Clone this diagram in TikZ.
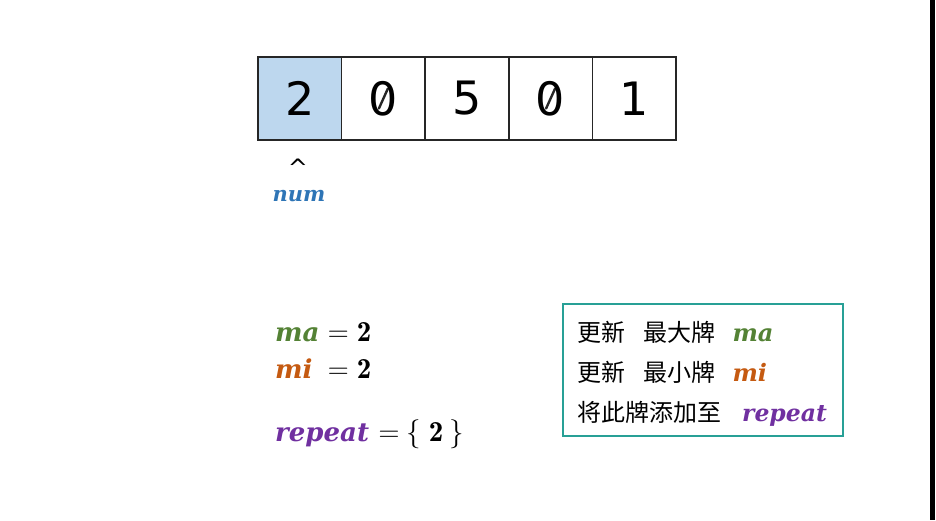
\RequirePackage{fix-cm}
\documentclass[tikz,border=0pt]{standalone}
\usepackage{fontspec}
\newfontfamily\digits{DejaVu Sans}
\newfontfamily\cjk{Noto Sans CJK SC}
\newfontfamily\dejavu{DejaVu Sans}
\newfontfamily\varfont{DejaVu Serif}
\usetikzlibrary{positioning}
\definecolor{cellblue}{RGB}{189,215,238}
\definecolor{numblue}{RGB}{46,117,182}
\definecolor{magreen}{RGB}{84,130,53}
\definecolor{miorange}{RGB}{197,90,17}
\definecolor{reppurple}{RGB}{112,48,160}
\definecolor{boxteal}{RGB}{40,160,150}
\newcommand\bvar[2][26]{{\fontsize{#1}{#1}\selectfont\varfont\bfseries\itshape #2}}

\begin{document}
\begin{tikzpicture}[
    x=1pt, y=-1pt,
    cell/.style={draw=black!85, line width=1.7pt, minimum width=83.6pt,
                 minimum height=83pt, outer sep=0pt, inner sep=0pt,
                 font=\fontsize{46}{46}\selectfont\digits},
    % slashed zero: the slash is drawn over the plain 0
    slashed/.style={path picture={
        \draw[line width=2.4pt, line cap=round]
            ([shift={(-4.5pt,-10pt)}]path picture bounding box.center)
            -- ([shift={(4.5pt,10pt)}]path picture bounding box.center);}},
    var/.style={anchor=west, inner sep=0pt, font=\fontsize{29}{30}\selectfont},
    note/.style={draw=boxteal, line width=1.5pt, anchor=north west,
                 text width=250pt, inner xsep=15pt, minimum height=132pt,
                 align=left, font=\fontsize{24}{40}\selectfont\cjk}
]
    \useasboundingbox (0,0) rectangle (936,520);
    \fill[black] (929.5,0) rectangle (935,520);

    % the cards
    \node[cell, fill=cellblue] (c1) at (299.8,98.5) {2};
    \node[cell, slashed, right=0pt of c1] (c2) {0};
    \node[cell, right=0pt of c2] (c3) {5};
    \node[cell, slashed, right=0pt of c3] (c4) {0};
    \node[cell, right=0pt of c4] (c5) {1};

    % pointer
    \node[inner sep=0pt, font=\fontsize{24}{24}\selectfont\dejavu] (caret) at (298,168) {\textasciicircum};
    \node[inner sep=0pt, text=numblue] (num) at (299,196) {\bvar[21]{num}};

    % variables
    \node[var] (ma) at (275,332) {\textcolor{magreen}{\bvar{ma}}\hspace{8.4pt}$=$\hspace{8pt}$\mathbf{2}$};
    \node[var] (mi) at (275,369) {\rlap{\textcolor{miorange}{\bvar{mi}}}\phantom{\bvar{ma}}\hspace{8.4pt}$=$\hspace{8pt}$\mathbf{2}$};
    \node[var] (rep) at (275,434) {\textcolor{reppurple}{\bvar{repeat}}\hspace{9.5pt}$=$\hspace{7pt}$\{$\hspace{8pt}$\mathbf{2}$\hspace{6pt}$\}$};

    % legend
    \node[note] (legend) at (562,303) {%
        \rule{0pt}{29pt}更新\hspace{0.75em}最大牌\hspace{0.7em}\textcolor{magreen}{\bvar[24]{ma}}\\
        更新\hspace{0.75em}最小牌\hspace{0.7em}\textcolor{miorange}{\bvar[24]{mi}}\\
        将此牌添加至\hspace{0.85em}\textcolor{reppurple}{\bvar[23.5]{repeat}}};
\end{tikzpicture}
\end{document}
